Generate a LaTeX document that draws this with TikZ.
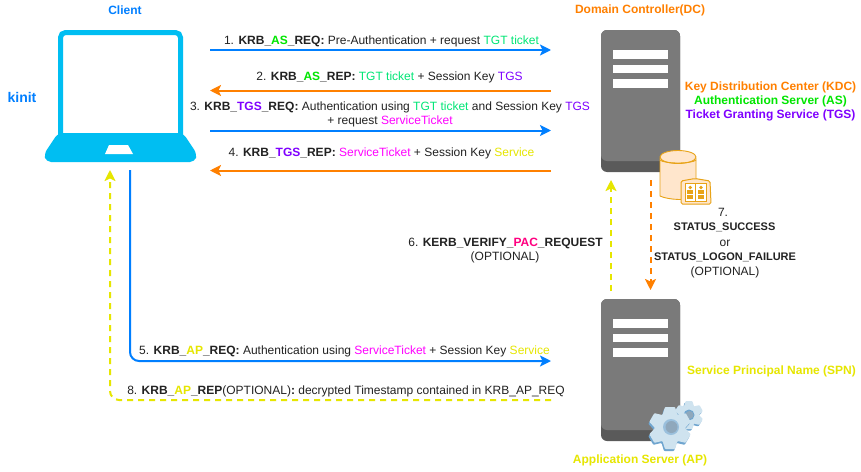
\documentclass[tikz,border=0pt]{standalone}
\usepackage{fontspec}
\setmainfont{Liberation Sans}
\usetikzlibrary{arrows.meta}
\definecolor{cblue}{HTML}{007FFF}
\definecolor{corange}{HTML}{FF8000}
\definecolor{cyel}{HTML}{E6E600}
\definecolor{cgrn}{HTML}{00E676}
\definecolor{casg}{HTML}{00E600}
\definecolor{cpur}{HTML}{7F00FF}
\definecolor{cmag}{HTML}{FF00FF}
\definecolor{cpink}{HTML}{FF0080}
\definecolor{ctxt}{HTML}{222222}
\definecolor{clap}{HTML}{00BEF2}
\definecolor{csrv}{HTML}{7A7A7A}
\definecolor{csrvd}{HTML}{5A5A5A}
\definecolor{cdbf}{HTML}{FFE6CC}
\definecolor{cdbs}{HTML}{E8A317}
\definecolor{cgl}{HTML}{CFE3EF}
\definecolor{cgd}{HTML}{6FA5CF}
\definecolor{cgh}{HTML}{8FA8BC}
\newcommand{\tg}[1]{\textcolor{cgrn}{#1}}
\newcommand{\tp}[1]{\textcolor{cpur}{#1}}
\newcommand{\tm}[1]{\textcolor{cmag}{#1}}
\newcommand{\ty}[1]{\textcolor{cyel}{#1}}
\newcommand{\ASb}{\textcolor{casg}{\textbf{AS}}}
\newcommand{\TGSb}{\textcolor{cpur}{\textbf{TGS}}}
\newcommand{\APb}{\textcolor{cyel}{\textbf{AP}}}
\newcommand{\serverdraw}[2]{%
  \fill[csrvd,rounded corners=6pt] (#1,#2) rectangle ++(79,142);
  \fill[csrv,rounded corners=6pt] (#1,#2) rectangle ++(79,131);
  \fill[white] (#1+12,#2+20) rectangle ++(55,8.5);
  \fill[white] (#1+12,#2+34.5) rectangle ++(55,8.5);
  \fill[white] (#1+12,#2+49) rectangle ++(55,8.5);
}
\newcommand{\geardraw}[4]{% x y radius colour
  \begin{scope}[shift={(#1,#2)}]
    \foreach \a in {0,60,120,180,240,300}
      \fill[#4,rotate=\a,rounded corners=0.8pt] (-#3*0.36,-#3*0.6) -- (-#3*0.24,-#3) -- (#3*0.24,-#3) -- (#3*0.36,-#3*0.6) -- cycle;
    \fill[#4] (0,0) circle[radius=#3*0.74];
  \end{scope}
}
\tikzset{
  x=1pt,y=-1pt,
  every node/.style={font=\fontsize{12}{14}\selectfont,text=ctxt,inner sep=0pt,align=center,anchor=center},
  title/.style={font=\fontsize{12}{14}\selectfont\bfseries},
  statustext/.style={font=\fontsize{11}{13}\selectfont\bfseries},
  solidarrow/.style={line width=2pt,-{Stealth[length=11pt,width=11pt,inset=2.5pt]},rounded corners=9pt},
  dasharrow/.style={line width=2pt,dash pattern=on 6pt off 5pt,-{Stealth[length=11pt,width=11pt,inset=2.5pt,sep=0pt]},rounded corners=9pt},
}
\begin{document}
\begin{tikzpicture}
\useasboundingbox (0,0) rectangle (861,471);
\fill[white] (0,0) rectangle (861,471);
% laptop
\draw[clap,line width=5pt,rounded corners=5pt] (60.5,135) -- (60.5,32.5) -- (180.5,32.5) -- (180.5,135);
\fill[clap,rounded corners=5pt] (58,133) -- (183,133) -- (197,154) -- (195,162) -- (46,162) -- (44,154) -- cycle;
\fill[white] (109,145) -- (128,145) -- (133,154) -- (105,154) -- cycle;
% servers
\serverdraw{601}{30}
\serverdraw{601}{299}
% database
\draw[cdbs,fill=cdbf,line width=0.9pt] (660,158) -- (660,196) .. controls (668,200) and (690,201) .. (696,197) -- (696,158);
\draw[cdbs,fill=cdbf,line width=0.9pt] (678,157) ellipse[x radius=18,y radius=6.5];
\draw[cdbs,line width=0.9pt] (660,160) .. controls (664,164) and (692,164) .. (696,160);
% book
\draw[cdbs,fill=cdbf,line width=1pt,rounded corners=1.5pt] (681,181) -- (695,178.5) -- (710,181) -- (711,204) -- (681,204) -- cycle;
\draw[cdbs,fill=white,line width=0.8pt] (685,183) rectangle (695.5,201);
\draw[cdbs,fill=white,line width=0.8pt] (695.5,183) rectangle (706,201);
\foreach \cx in {690.2,701}{
  \fill[cdbs] (\cx,187.5) circle[radius=1.8];
  \fill[cdbs] (\cx-3,190) rectangle (\cx+3,193.5);
  \fill[cdbs] (\cx-3,195) rectangle (\cx+3,199);
}
% gears
\geardraw{688}{416.5}{14}{cgd}
\geardraw{689}{415}{14}{cgl}
\fill[cgd] (689,415) circle[radius=5.5];
\fill[cgh] (689.5,415) circle[radius=4];
\geardraw{669}{430}{21}{cgd}
\geardraw{670}{428}{21}{cgl}
\fill[cgd!70] (671,427) circle[radius=8];
\fill[cgh] (671.5,427) circle[radius=6];
% anchors
\coordinate (a1s) at (210,50);   \coordinate (a1e) at (551,50);
\coordinate (a2s) at (551,90.5); \coordinate (a2e) at (210,90.5);
\coordinate (a3s) at (210,130.5);\coordinate (a3e) at (551,130.5);
\coordinate (a4s) at (551,170.5);\coordinate (a4e) at (210,170.5);
\coordinate (a5s) at (130,170);  \coordinate (a5e) at (551,361);
\coordinate (a8s) at (551,400);  \coordinate (a8e) at (110,170);
\coordinate (a6s) at (611,291);  \coordinate (a6e) at (611,180);
\coordinate (a7s) at (650.5,180);\coordinate (a7e) at (650.5,290);
% connectors
\draw[solidarrow,cblue] (a1s) -- (a1e);
\draw[solidarrow,corange] (a2s) -- (a2e);
\draw[solidarrow,cblue] (a3s) -- (a3e);
\draw[solidarrow,corange] (a4s) -- (a4e);
\draw[solidarrow,cblue] (a5s) |- (a5e);
\draw[dasharrow,cyel] (a8s) -| (a8e);
\draw[dasharrow,cyel] (a6s) -- (a6e);
\draw[dasharrow,corange] (a7s) -- (a7e);
% titles
\node[title,text=cblue] (tclient) at (125,10) {Client};
\node[title,text=cblue,font=\fontsize{14}{16}\selectfont\bfseries] (tkinit) at (22,97) {kinit};
\node[title,text=corange] (tdc) at (640,10.5) {Domain Controller(DC)};
\node[title,text=corange] (tkdc) at (770.5,87.5) {Key Distribution Center (KDC)};
\node[title,text=casg] (tas) at (770.5,101.5) {Authentication Server (AS)};
\node[title,text=cpur] (ttgs) at (770.5,115.5) {Ticket Granting Service (TGS)};
\node[title,text=cyel] (tspn) at (771.5,371) {Service Principal Name (SPN)};
\node[title,text=cyel] (tap) at (640,460.5) {Application Server (AP)};
% messages
\node (m1) at (381.5,41) {1. \textbf{KRB\_\ASb\_REQ:} Pre-Authentication + request \tg{TGT ticket}};
\node (m2) at (389.5,77) {2. \textbf{KRB\_\ASb\_REP:} \tg{TGT ticket} + Session Key \tp{TGS}};
\node (m3) at (390,107) {3. \textbf{KRB\_\TGSb\_REQ:} Authentication using \tg{TGT ticket} and Session Key \tp{TGS}};
\node (m3b) at (390,121) {+ request \tm{ServiceTicket}};
\node (m4) at (381.5,153) {4. \textbf{KRB\_\TGSb\_REP:} \tm{ServiceTicket} + Session Key \ty{Service}};
\node (m5) at (344.5,351) {5. \textbf{KRB\_\APb\_REQ:} Authentication using \tm{ServiceTicket} + Session Key \ty{Service}};
\node (m8) at (346,391) {8. \textbf{KRB\_\APb\_REP}(OPTIONAL)\textbf{:} decrypted Timestamp contained in KRB\_AP\_REQ};
\node (m6) at (505.5,243.5) {6. \textbf{KERB\_VERIFY\_\textcolor{cpink}{PAC}\_REQUEST}};
\node (m6b) at (505,257.5) {(OPTIONAL)};
\node (m7a) at (723,212.5) {7.};
\node[statustext] (m7b) at (724.5,227.5) {STATUS\_SUCCESS};
\node (m7c) at (725,243) {or};
\node[statustext] (m7d) at (725,257.5) {STATUS\_LOGON\_FAILURE};
\node (m7e) at (725,272) {(OPTIONAL)};
\end{tikzpicture}
\end{document}
